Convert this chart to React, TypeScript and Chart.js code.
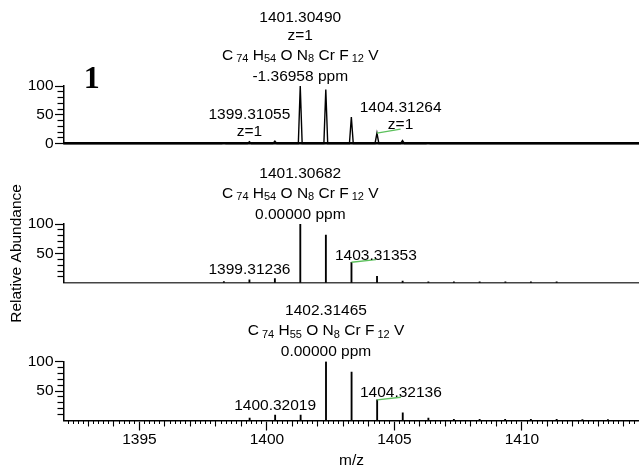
import React, { useEffect, useRef } from "react";
import { Chart, registerables } from "chart.js";

Chart.register(...registerables);

const W = 639;
const H = 472;

const X_MIN = 1392.04;
const X_MAX = 1414.59;
const X_TICKS = [1395, 1400, 1405, 1410];
const Y_TICKS_TOP = [0, 50, 100];
const Y_TICKS = [50, 100];
const Y_MINOR = [10, 20, 30, 40, 60, 70, 80, 90];

// Panel 1 — measured spectrum (profile)
const P1_MZ = [1398.31, 1399.311, 1400.31, 1401.305, 1402.307, 1403.309, 1404.313, 1405.315, 1406.32];
const P1_INT = [1, 3, 4, 100, 94, 46, 18, 5, 1];
const P1_LINK_MZ = [1404.313, 1405.24];
const P1_LINK_INT = [18, 25];
const P1_NOTE_BASE = ["1401.30490", "z=1", "C_{ 74} H_{54} O N_{8} Cr F_{ 12} V", "-1.36958 ppm"];
const P1_NOTE_SIDE = ["1399.31055", "z=1"];
const P1_NOTE_LINK = ["1404.31264", "z=1"];

// Panel 2 — simulated C74H54ON8CrF12V
const P2_MZ = [1398.31, 1399.312, 1400.31, 1401.307, 1402.31, 1403.314, 1404.316, 1405.32, 1406.33, 1407.33, 1408.34, 1409.35, 1410.35, 1411.36];
const P2_INT = [2, 5, 7, 100, 81, 35, 11, 3, 1.5, 1.5, 1.5, 1.5, 1.5, 1.5];
const P2_LINK_MZ = [1403.314, 1404.27];
const P2_LINK_INT = [35, 39.5];
const P2_NOTE_BASE = ["1401.30682", "C_{ 74} H_{54} O N_{8} Cr F_{ 12} V", "0.00000 ppm"];
const P2_NOTE_SIDE = ["1399.31236"];
const P2_NOTE_LINK = ["1403.31353"];

// Panel 3 — simulated C74H55ON8CrF12V
const P3_MZ = [1399.32, 1400.32, 1401.32, 1402.315, 1403.318, 1404.321, 1405.325, 1406.33, 1407.33, 1408.34, 1409.34, 1410.35, 1411.36, 1412.37, 1413.37];
const P3_INT = [4, 9, 9, 100, 82, 35, 13, 4, 2, 2, 2, 2, 2, 1.5, 1.5];
const P3_LINK_MZ = [1404.321, 1405.25];
const P3_LINK_INT = [35, 39.5];
const P3_NOTE_BASE = ["1402.31465", "C_{ 74} H_{55} O N_{8} Cr F_{ 12} V", "0.00000 ppm"];
const P3_NOTE_SIDE = ["1400.32019"];
const P3_NOTE_LINK = ["1404.32136"];

const FAMILY = "'Liberation Sans', Arial, sans-serif";
const MAIN_SIZE = 15.5;
const MAIN_FONT = `${MAIN_SIZE}px ${FAMILY}`;
const SUB_FONT = `11px ${FAMILY}`;
const SUB_DROP = 2.5;
const PEAK_GAP = 5.5;
const GREEN = "#5cc05c";

type Note = { i: number; lines: string[] };
type PanelCfg = {
  mz: number[];
  int: number[];
  profile: boolean;
  linkMz: number[];
  linkInt: number[];
  notes: Note[];
  linkNote: string[];
  tag?: string;
  areaTop: number;
  areaBottom: number;
  yTicks: number[];
  baseWidth: number;
  baseColor: string;
  isBottom: boolean;
  yTitle: boolean;
};

const PANELS: PanelCfg[] = [
  {
    mz: P1_MZ, int: P1_INT, profile: true, linkMz: P1_LINK_MZ, linkInt: P1_LINK_INT,
    notes: [{ i: 3, lines: P1_NOTE_BASE }, { i: 1, lines: P1_NOTE_SIDE }], linkNote: P1_NOTE_LINK,
    tag: "1", areaTop: 86, areaBottom: 143.5, yTicks: Y_TICKS_TOP, baseWidth: 2.4, baseColor: "#000",
    isBottom: false, yTitle: false,
  },
  {
    mz: P2_MZ, int: P2_INT, profile: false, linkMz: P2_LINK_MZ, linkInt: P2_LINK_INT,
    notes: [{ i: 3, lines: P2_NOTE_BASE }, { i: 1, lines: P2_NOTE_SIDE }], linkNote: P2_NOTE_LINK,
    areaTop: 224, areaBottom: 282.8, yTicks: Y_TICKS, baseWidth: 1.6, baseColor: "#444",
    isBottom: false, yTitle: true,
  },
  {
    mz: P3_MZ, int: P3_INT, profile: false, linkMz: P3_LINK_MZ, linkInt: P3_LINK_INT,
    notes: [{ i: 3, lines: P3_NOTE_BASE }, { i: 1, lines: P3_NOTE_SIDE }], linkNote: P3_NOTE_LINK,
    areaTop: 361.5, areaBottom: 420.5, yTicks: Y_TICKS, baseWidth: 1.6, baseColor: "#000",
    isBottom: true, yTitle: false,
  },
];

const X_AXIS_H = 51.5;

function isRich(s: string) {
  return s.includes("_{");
}

function parts(s: string) {
  const out: { t: string; sub: boolean }[] = [];
  const re = /_\{([^}]*)\}/g;
  let last = 0;
  let m: RegExpExecArray | null;
  while ((m = re.exec(s))) {
    if (m.index > last) out.push({ t: s.slice(last, m.index), sub: false });
    out.push({ t: m[1], sub: true });
    last = re.lastIndex;
  }
  if (last < s.length) out.push({ t: s.slice(last), sub: false });
  return out;
}

function drawLine(ctx: CanvasRenderingContext2D, s: string, cx: number, by: number) {
  const ps = parts(s);
  let total = 0;
  const ws = ps.map((p) => {
    ctx.font = p.sub ? SUB_FONT : MAIN_FONT;
    const w = ctx.measureText(p.t).width;
    total += w;
    return w;
  });
  let x = cx - total / 2;
  ps.forEach((p, k) => {
    ctx.font = p.sub ? SUB_FONT : MAIN_FONT;
    ctx.fillText(p.t, x, by + (p.sub ? SUB_DROP : 0));
    x += ws[k];
  });
}

function drawStack(ctx: CanvasRenderingContext2D, lines: string[], cx: number, bottom: number) {
  let b = bottom;
  for (let k = lines.length - 1; k >= 0; k--) {
    drawLine(ctx, lines[k], cx, b);
    if (k > 0) {
      if (isRich(lines[k])) b -= 20;
      else if (isRich(lines[k - 1])) b -= 21;
      else b -= 17.5;
    }
  }
}

function notesPlugin(p: PanelCfg) {
  return {
    id: "notes",
    afterDatasetsDraw(chart: any) {
      const { ctx, scales, chartArea } = chart;
      const x = scales.x;
      const y = scales.y;
      ctx.save();
      ctx.fillStyle = "#000";
      ctx.textAlign = "left";
      ctx.textBaseline = "alphabetic";
      for (const n of p.notes) {
        const px = x.getPixelForValue(p.mz[n.i]);
        const py = y.getPixelForValue(p.int[n.i]);
        drawStack(ctx, n.lines, px, py - PEAK_GAP);
      }
      const lx = x.getPixelForValue(p.linkMz[p.linkMz.length - 1]);
      const ly = y.getPixelForValue(p.linkInt[p.linkInt.length - 1]);
      drawStack(ctx, p.linkNote, lx, ly);
      if (p.tag) {
        ctx.font = `bold 32px 'Liberation Serif', 'Times New Roman', serif`;
        ctx.textAlign = "center";
        ctx.fillText(p.tag, chartArea.left + 27.7, chartArea.top + 2);
      }
      ctx.restore();
    },
  };
}

function buildChart(canvas: HTMLCanvasElement, p: PanelCfg) {
  const font = { family: FAMILY, size: MAIN_SIZE };
  const datasets: any[] = [];
  if (p.profile) {
    const half = 0.075;
    const pts: { x: number; y: number }[] = [{ x: X_MIN, y: 0 }];
    p.mz.forEach((m, i) => {
      pts.push({ x: m - half, y: 0 }, { x: m, y: p.int[i] }, { x: m + half, y: 0 });
    });
    pts.push({ x: X_MAX, y: 0 });
    datasets.push({
      type: "line", data: pts, borderColor: "#000", borderWidth: 1.4, pointRadius: 0,
      tension: 0, clip: false, order: 2,
    });
  } else {
    datasets.push({
      type: "bar", data: p.mz.map((m, i) => ({ x: m, y: p.int[i] })), backgroundColor: "#000",
      barThickness: 1.2, borderWidth: 0, grouped: false, order: 2,
    });
  }
  datasets.push({
    type: "line", data: p.linkMz.map((m, i) => ({ x: m, y: p.linkInt[i] })), borderColor: GREEN,
    borderWidth: 1.4, pointRadius: 0, tension: 0, clip: false, order: 1,
  });

  const scales: any = {
    x: {
      type: "linear", min: X_MIN, max: X_MAX, position: "bottom", weight: 3, offset: false,
      afterFit: (s: any) => { s.height = p.isBottom ? X_AXIS_H : 0; },
      afterBuildTicks: (s: any) => { s.ticks = X_TICKS.map((v) => ({ value: v })); },
      grid: { display: p.isBottom, drawOnChartArea: false, offset: false, tickLength: 10, tickColor: "#000", tickWidth: 1.2 },
      border: { display: true, color: p.baseColor, width: p.baseWidth },
      ticks: { display: p.isBottom, font, color: "#000", padding: 0, maxRotation: 0, autoSkip: false, callback: (v: any) => String(v) },
      title: { display: p.isBottom, text: "m/z", font, color: "#000", padding: { top: 0, bottom: 1.5 } },
    },
    y: {
      type: "linear", min: 0, max: 100, position: "left", weight: 2,
      afterFit: (s: any) => { s.width = 64; },
      afterBuildTicks: (s: any) => { s.ticks = p.yTicks.map((v) => ({ value: v })); },
      grid: { drawOnChartArea: false, tickLength: 9, tickColor: "#000", tickWidth: 1.2 },
      border: { display: true, color: "#000", width: 1.5 },
      ticks: { font, color: "#000", padding: 1.5, callback: (v: any) => String(v) },
      title: { display: p.yTitle, text: "Relative Abundance", font, color: "#000", padding: { top: 7, bottom: 0 } },
    },
    yMinor: {
      type: "linear", min: 0, max: 100, position: "left", weight: 1,
      afterFit: (s: any) => { s.width = 0; },
      afterBuildTicks: (s: any) => { s.ticks = Y_MINOR.map((v) => ({ value: v })); },
      grid: { drawOnChartArea: false, tickLength: 6.5, tickColor: "#000", tickWidth: 1.2 },
      border: { display: false },
      ticks: { display: false },
    },
  };

  if (p.isBottom) {
    const units: number[] = [];
    const fifths: number[] = [];
    for (let v = Math.ceil(X_MIN * 5); v <= Math.floor(X_MAX * 5); v++) {
      if (v % 5 === 0) {
        if ((v / 5) % 5 !== 0) units.push(v / 5);
      } else fifths.push(v / 5);
    }
    scales.xMid = {
      type: "linear", min: X_MIN, max: X_MAX, position: "bottom", weight: 1, offset: false,
      afterFit: (s: any) => { s.height = 0; },
      afterBuildTicks: (s: any) => { s.ticks = units.map((v) => ({ value: v })); },
      grid: { drawOnChartArea: false, offset: false, tickLength: 6, tickColor: "#000", tickWidth: 1.1 },
      border: { display: false },
      ticks: { display: false },
    };
    scales.xMinor = {
      type: "linear", min: X_MIN, max: X_MAX, position: "bottom", weight: 0, offset: false,
      afterFit: (s: any) => { s.height = 0; },
      afterBuildTicks: (s: any) => { s.ticks = fifths.map((v) => ({ value: v })); },
      grid: { drawOnChartArea: false, offset: false, tickLength: 3.5, tickColor: "#000", tickWidth: 1 },
      border: { display: false },
      ticks: { display: false },
    };
  }

  const padBottom = p.isBottom ? H - p.areaBottom - X_AXIS_H : H - p.areaBottom;

  return new Chart(canvas, {
    type: "bar",
    data: { datasets },
    options: {
      responsive: false,
      animation: false,
      devicePixelRatio: 1,
      layout: { padding: { top: p.areaTop, bottom: padBottom, left: 0, right: 0 } },
      plugins: { legend: { display: false }, tooltip: { enabled: false } },
      events: [],
      scales,
    } as any,
    plugins: [notesPlugin(p)],
  });
}

function Panel({ cfg }: { cfg: PanelCfg }) {
  const ref = useRef<HTMLCanvasElement>(null);
  useEffect(() => {
    const chart = buildChart(ref.current as HTMLCanvasElement, cfg);
    return () => chart.destroy();
  }, [cfg]);
  return (
    <canvas
      ref={ref}
      width={W}
      height={H}
      style={{ position: "absolute", left: 0, top: 0, width: W, height: H }}
    />
  );
}

export default function App() {
  return (
    <div style={{ position: "fixed", left: 0, top: 0, width: W, height: H, background: "#fff", overflow: "hidden" }}>
      {PANELS.map((p, i) => (
        <Panel key={i} cfg={p} />
      ))}
    </div>
  );
}
